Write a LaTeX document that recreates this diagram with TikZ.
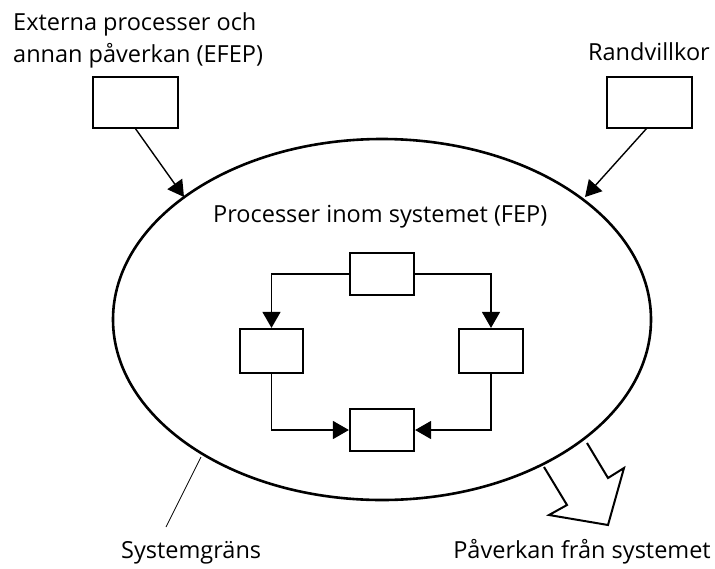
\documentclass[tikz,border=0pt]{standalone}
\usepackage{fontspec}
\setmainfont{Open Sans}
\usetikzlibrary{arrows.meta}
\begin{document}
\begin{tikzpicture}[x=1pt,y=-1pt,
  lbl/.style={inner sep=0pt,anchor=base west,font=\fontsize{23.5}{28}\selectfont},
  conn/.style={line width=1.4pt,-{Triangle[length=16pt,width=18pt]}}]
\useasboundingbox (0,0) rectangle (715,568);

% texts
\node[lbl] (ext1) at (13,30) {Externa processer och};
\node[lbl] (ext2) at (13,62) {annan påverkan (EFEP)};
\node[lbl,anchor=base east] (rand) at (710,60) {Randvillkor};
\node[lbl] (fep) at (213,222) {Processer inom systemet (FEP)};
\node[lbl] (sys) at (121,558) {Systemgräns};
\node[lbl,anchor=base east] (pav) at (711,558) {Påverkan från systemet};

% external boxes
\node[draw,line width=2.2pt,minimum width=85pt,minimum height=51pt,inner sep=0pt] (efep) at (135.5,102.5) {};
\node[draw,line width=2.2pt,minimum width=85pt,minimum height=51pt,inner sep=0pt] (rv) at (649.5,102.5) {};
\coordinate (inL) at (184,197);
\coordinate (inR) at (585,197);
\draw[conn] (135,128) -- (inL);
\draw[conn] (647,128) -- (inR);

% internal processes
\node[draw,line width=2.2pt,minimum width=64pt,minimum height=42pt,inner sep=0pt] (p1) at (382,274) {};
\node[draw,line width=2.2pt,minimum width=63pt,minimum height=44pt,inner sep=0pt] (p2) at (271.5,351) {};
\node[draw,line width=2.2pt,minimum width=64pt,minimum height=44pt,inner sep=0pt] (p3) at (491,351) {};
\node[draw,line width=2.2pt,minimum width=64pt,minimum height=42pt,inner sep=0pt] (p4) at (382,430) {};

\draw[conn] (p1.west) -- (p2.north |- p1.west) -- (p2.north);
\draw[conn] (p1.east) -- (p3.north |- p1.east) -- (p3.north);
\draw[conn] (p2.south) -- (p2.south |- p4.west) -- (p4.west);
\draw[conn] (p3.south) -- (p3.south |- p4.east) -- (p4.east);

% boundary label leader
\coordinate (bnd) at (201,457);
\draw[line width=0.8pt] (bnd) -- (166,527);

% outgoing effect arrow
\coordinate (oa) at (544,467);
\coordinate (ob) at (587,443);
\draw[line width=2pt,line join=miter]
  (oa) -- (567,505) -- (549,515) -- (608,525) -- (624,468) -- (608,478) -- (ob);

% system boundary
\draw[line width=2.6pt] (382,319.5) ellipse [x radius=269, y radius=180.5];
\end{tikzpicture}
\end{document}
